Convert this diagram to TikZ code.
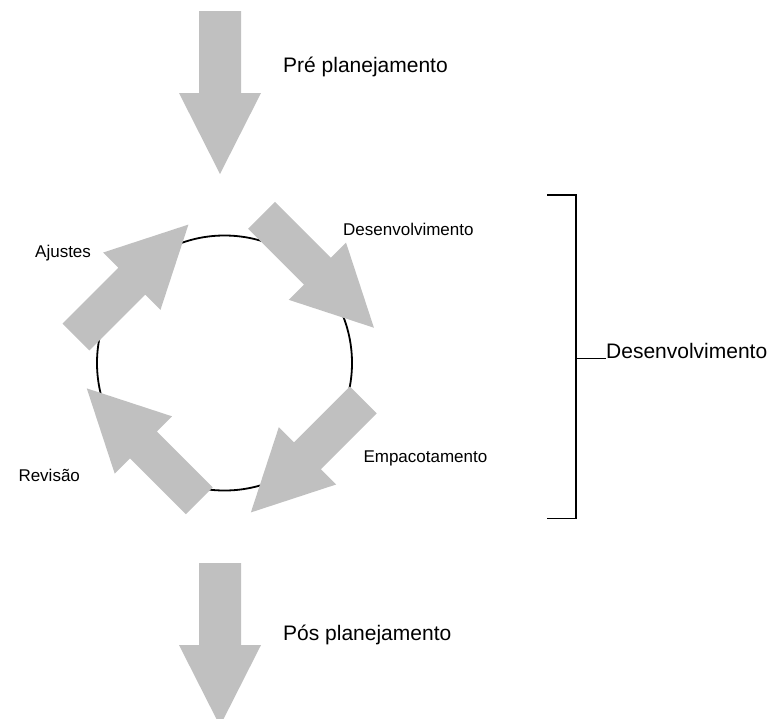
\documentclass[tikz,border=0pt]{standalone}
\usepackage{fontspec}
\setmainfont{Liberation Sans}
\definecolor{arrowgray}{RGB}{192,192,192}
% #1 start (shaft middle), #2 angle, #3 shaft width, #4 shaft length, #5 head width, #6 head length
\newcommand\blockarrow[6]{%
  \begin{scope}[shift={#1}, rotate=#2]
    \fill[arrowgray] (0,{-#3/2}) -- (#4,{-#3/2}) -- (#4,{-#5/2}) -- ({#4+#6},0)
      -- (#4,{#5/2}) -- (#4,{#3/2}) -- (0,{#3/2}) -- cycle;
  \end{scope}}
\tikzset{
  bigtxt/.style={font=\fontsize{21}{25}\selectfont, inner sep=0pt, anchor=base west},
  smalltxt/.style={font=\fontsize{17}{20}\selectfont, inner sep=0pt, anchor=base west},
  ringline/.style={draw=black, line width=1.8pt},
  bracketline/.style={draw=black, line width=1.6pt}
}
\begin{document}
\begin{tikzpicture}[x=1pt,y=-1pt]
\useasboundingbox (0,0) rectangle (773,718);
% circle
\node[ringline, circle, minimum size=255pt, inner sep=0pt] (ring) at (224.5,363) {};
% vertical arrows
\blockarrow{(220,11)}{-90}{42}{82}{82}{81}
\blockarrow{(220,563)}{-90}{42}{82}{82}{81}
% cycle arrows
\blockarrow{(76,337)}{45}{38}{79}{81}{80}
\blockarrow{(261.5,215.3)}{-45}{38}{79}{81}{80}
\blockarrow{(363.3,400)}{-135}{38}{79}{81}{80}
\blockarrow{(199.2,500.8)}{135}{38}{79}{81}{80}
% texts
\node[bigtxt] (pre) at (283,72.7) {Pré planejamento};
\node[bigtxt] (pos) at (283,640) {Pós planejamento};
\node[smalltxt] (desenv) at (343,235.7) {Desenvolvimento};
\node[smalltxt] (ajustes) at (35,257.3) {Ajustes};
\node[smalltxt] (revisao) at (18.3,481) {Revisão};
\node[smalltxt] (empac) at (363.3,462) {Empacotamento};
\node[bigtxt] (bigdesenv) at (606,358.3) {Desenvolvimento};
% bracket
\coordinate (btop) at (547,195);
\coordinate (bbot) at (547,518.3);
\coordinate (bmid) at (576,358.3);
\draw[bracketline] (btop) -- (576,195) -- (576,518.3) -- (bbot);
\draw[bracketline] (bmid) -- (bigdesenv.base west);
\end{tikzpicture}
\end{document}
